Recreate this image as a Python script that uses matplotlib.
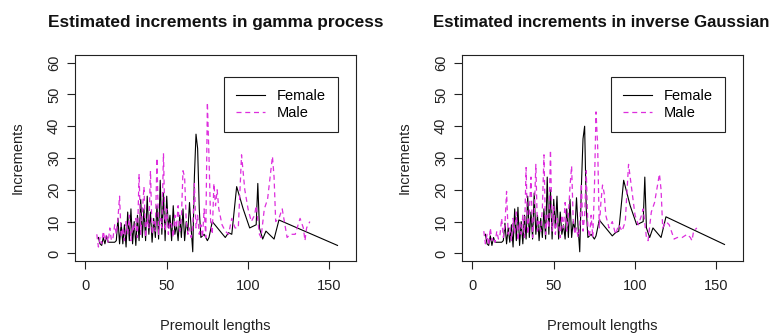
import matplotlib
matplotlib.use("Agg")
import matplotlib.pyplot as plt

plt.rcParams['font.family'] = ['Liberation Sans', 'DejaVu Sans']

# premoult lengths (shared by both fits)
female_x = list(range(8, 72)) + [73, 75, 76, 78, 82, 86, 88, 90, 93, 97, 101, 103, 105, 106,
                                  107, 109, 111, 116, 119, 155]
male_x = list(range(7, 83)) + [84, 86, 88, 90, 92, 94, 96, 98, 100, 102, 104, 105, 107, 108,
                                110, 112, 115, 116, 117, 119, 121, 123, 124, 126, 129, 132,
                                134, 135, 136, 138]

female_gamma = [5, 3, 2.5, 5, 3, 5.5, 3.5, 3.5, 3.5, 3.5, 3.5, 4, 11, 3, 9.5, 3, 9, 2, 13, 4,
                14, 3, 10, 2.5, 12, 4, 17, 5, 14, 4, 18, 6, 13, 3.5, 11, 5, 15, 4.5, 23, 6,
                19, 4, 18, 8, 12, 4, 15, 6, 9, 4, 12, 5, 14, 4, 10, 7, 16, 8, 0.5, 24,
                37.5, 33, 14, 5,
                6, 4, 5, 10, 7.5, 5, 6.5, 6, 21, 14, 8, 8.5, 9, 22, 8, 4.5, 7, 4.5, 10.5, 2.5]
male_gamma = [6, 2, 5, 3, 7, 4, 6, 3.5, 8, 4, 5, 9, 6, 11, 18, 5, 8, 4, 10, 6,
              12, 4, 9, 7, 11, 5, 25, 6, 13, 21, 5, 11, 8, 26, 6, 10, 7, 30, 6, 11,
              8, 31.5, 7, 14, 6, 10, 9, 5, 12, 8, 15, 7, 11, 26, 24, 10, 6, 8, 5, 8,
              22, 8, 12, 6, 9, 5, 14, 5, 47.5, 30, 10, 6, 22, 15, 20, 14,
              9, 7, 6, 11, 8, 8, 31, 20, 14, 10, 12, 15, 6, 5, 14, 17, 30.5, 24, 10, 11,
              14, 8, 5, 6, 6, 11, 8, 4, 8, 10]

female_ig = [6, 3, 2.5, 5.5, 2.5, 5, 3.5, 3.5, 3.5, 3.5, 3.5, 4, 9.5, 3, 8, 3.5, 9, 2, 14, 4,
             14.5, 2.5, 10, 3, 12, 4.5, 18, 5, 13, 4.5, 19, 6, 12, 4, 11, 5, 14, 4.5, 24, 6,
             20, 4.5, 17, 8, 18, 4.5, 13, 6, 9, 4.5, 14, 5, 17, 5, 10, 7, 17.5, 8, 0.5, 21,
             36, 40, 14, 5,
             6, 4.5, 5.5, 10.5, 8, 5.5, 6.5, 7, 23, 15, 9, 9.5, 10, 24, 8, 5, 8, 5, 11.5, 2.8]
male_ig = [7, 3, 6, 2.5, 8, 4, 5, 3.5, 7, 4.5, 6, 11, 5, 9, 19.5, 6, 8, 4, 11, 6,
           13, 4, 10, 6, 12, 5, 27, 6, 13, 24, 5, 12, 28, 7, 10, 7, 14, 31, 6, 12,
           8, 32.5, 7, 15, 6, 11, 9, 5, 12, 8, 16, 7, 12, 21, 27.5, 10, 6, 8, 5, 8,
           22, 7, 12, 26, 8, 5, 12, 5, 20, 44.5, 34, 8, 16, 21.5, 19, 12,
           8, 10, 6, 9, 7, 10, 28, 20, 12, 9, 12, 14, 5, 4, 13, 16, 25, 20, 8, 10,
           9, 6, 4.5, 5, 5, 6, 5, 4, 7, 8]

titles = ["Estimated increments in gamma process",
          "Estimated increments in inverse Gaussian"]
panels = [(female_gamma, male_gamma), (female_ig, male_ig)]

fig = plt.figure(figsize=(7.74, 3.36), dpi=100)
lefts = [0.0969, 0.5969]
title_x = [0.5, 0.495]
title_fs = [12.4, 12.1]
fs = 10.5

for k in range(2):
    ax = fig.add_axes([lefts[k], 0.2232, 0.3631, 0.6131])
    fem, mal = panels[k]
    ax.plot(female_x, fem, color="black", lw=0.8, label="Female")
    ax.plot(male_x, mal, color="#dd2edd", lw=0.9, ls=(0, (4, 3)), label="Male")

    ax.set_xlim(-6.4, 166.4)
    ax.set_ylim(-2.4, 62.4)
    ax.set_xticks([0, 50, 100, 150])
    ax.set_yticks([0, 10, 20, 30, 40, 50, 60])
    ax.tick_params(axis="both", direction="out", length=6, width=0.8, labelsize=fs,
                   color="#222222", labelcolor="#222222")
    ax.tick_params(axis="x", pad=7)
    ax.tick_params(axis="y", pad=4)
    for lab in ax.get_yticklabels():
        lab.set_rotation(90)
        lab.set_va("center")
    for s in ax.spines.values():
        s.set_linewidth(0.8)
        s.set_color("#222222")

    ax.text(title_x[k], 1.16, titles[k], transform=ax.transAxes, ha="center", va="center",
            fontsize=title_fs[k], fontweight="bold", color="#111111")
    ax.text(0.5, -0.315, "Premoult lengths", transform=ax.transAxes, ha="center",
            va="center", fontsize=fs, color="#222222")
    ax.text(-0.205, 0.5, "Increments", transform=ax.transAxes, ha="center",
            va="center", rotation=90, fontsize=fs, color="#222222")

    leg = ax.legend(loc="upper right", bbox_to_anchor=(0.935, 0.893), borderaxespad=0,
                    fancybox=False, framealpha=1, edgecolor="#222222", fontsize=fs,
                    handlelength=2.05, handletextpad=0.8, borderpad=0.8,
                    labelspacing=0.25)
    leg.get_frame().set_linewidth(0.8)

plt.savefig("out.png", dpi=100)
